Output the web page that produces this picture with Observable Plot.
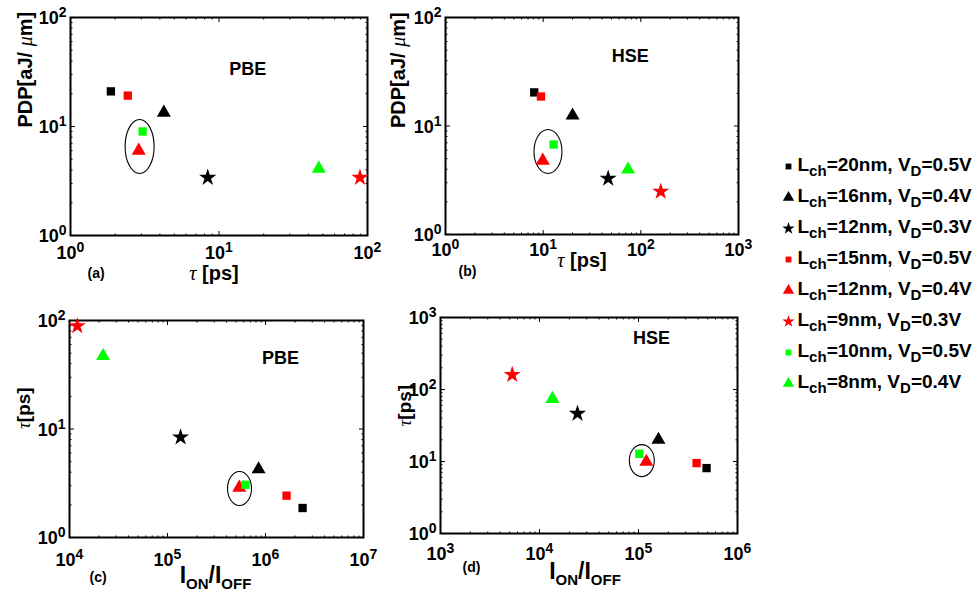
<!DOCTYPE html>
<html><head><meta charset="utf-8">
<script src="https://cdn.jsdelivr.net/npm/d3@7"></script>
<script src="https://cdn.jsdelivr.net/npm/@observablehq/plot@0.6"></script>
<style>
html,body{margin:0;padding:0;background:#fff;}
#wrap{position:relative;width:977px;height:592px;overflow:hidden;background:#fff;}
#wrap svg{position:absolute;overflow:visible;background:transparent;}
</style></head><body><div id="wrap"></div>
<script>
// ---- data ----
const lch = [20, 16, 12, 15, 12, 9, 10, 8];
const vd = [0.5, 0.4, 0.3, 0.5, 0.4, 0.3, 0.5, 0.4];
const tauPBE = [1.87, 4.25, 8.4, 2.43, 2.88, 89, 3.06, 47];
const pdpPBE = [21, 13.4, 3.4, 19.2, 6.0, 3.4, 9.0, 4.1];
const onoffPBE = [2.39e6, 8.5e5, 1.36e5, 1.64e6, 5.4e5, 1.2e4, 6.25e5, 2.2e4];
const tauHSE = [8.1, 20, 46.3, 9.5, 9.9, 160, 12.8, 74];
const pdpHSE = [20.4, 12.5, 3.28, 18.7, 4.8, 2.49, 6.75, 3.97];
const onoffHSE = [4.87e5, 1.59e5, 2.42e4, 3.86e5, 1.2e5, 5.3e3, 1.02e5, 1.35e4];
// circled pairs (centre of the highlight ellipse, data units)
const ellipseX = [2.92, 11.2, 5.43e5, 1.08e5];
const ellipseY = [6.56, 5.82, 2.83, 10.3];
// tick values
const ticksAx = [1, 10, 100], ticksAy = [1, 10, 100];
const ticksBx = [1, 10, 100, 1000], ticksBy = [1, 10, 100];
const ticksCx = [1e4, 1e5, 1e6, 1e7], ticksCy = [1, 10, 100];
const ticksDx = [1e3, 1e4, 1e5, 1e6], ticksDy = [1, 10, 100, 1000];
// annotation texts
const noteText = ["PBE", "HSE", "PBE", "HSE"];
const noteX = [15.6, 78, 1.42e6, 1.35e5];
const noteY = [29.4, 38.5, 40, 435];
const tags = ["(a)", "(b)", "(c)", "(d)"];
const labelTau = "*{τ} [ps]";
const labelPDP = "PDP[aJ/ *{μ}m]";
const labelTauY = "*{τ}[ps]";
const labelOnOff = "I_{ON}/I_{OFF}";

const seriesLabels = lch.map((l, i) => `L_{ch}=${l}nm, V_{D}=${vd[i]}V`);

// ---- styles ----
const colors = ["#000000", "#000000", "#000000", "#ff0000", "#ff0000", "#ff0000", "#00ff00", "#00ff00"];
const shapes = ["square", "triangle", "star", "square", "triangle", "star", "square", "triangle"];
const R = {square: 4.7, triangle: 5.2, star: 5.4};
const Rleg = {square: 3.3, triangle: 4.2, star: 3.9};
const FONT = "'Liberation Sans', Arial, Helvetica, sans-serif";

const seg = (dx, dy) => ({draw(c) { c.moveTo(0, 0); c.lineTo(dx, dy); }});
const ellipseSym = (rx, ry) => ({draw(c) {
  const k = 0.5523;
  c.moveTo(rx, 0);
  c.bezierCurveTo(rx, k * ry, k * rx, ry, 0, ry);
  c.bezierCurveTo(-k * rx, ry, -rx, k * ry, -rx, 0);
  c.bezierCurveTo(-rx, -k * ry, -k * rx, -ry, 0, -ry);
  c.bezierCurveTo(k * rx, -ry, rx, -k * ry, rx, 0);
  c.closePath();
}});
const minor = (t) => { const o = []; for (let i = 0; i < t.length - 1; i++) for (let k = 2; k <= 9; k++) o.push(t[i] * k); return o; };
const pow = (d) => `10^{${Math.round(Math.log10(d))}}`;

function tickMarks(xT, yT, len, sw) {
  const o = {stroke: "black", fill: "none", strokeWidth: sw};
  return [
    Plot.dot(xT, {x: d => d, frameAnchor: "bottom", symbol: seg(0, -len), ...o}),
    Plot.dot(xT, {x: d => d, frameAnchor: "top", symbol: seg(0, len), ...o}),
    Plot.dot(yT, {y: d => d, frameAnchor: "left", symbol: seg(len, 0), ...o}),
    Plot.dot(yT, {y: d => d, frameAnchor: "right", symbol: seg(-len, 0), ...o})
  ];
}

function richify(svg, subPx, subShift) {
  svg.querySelectorAll("text").forEach(t => {
    const s = t.textContent;
    if (!/[_^*]\{/.test(s)) return;
    while (t.firstChild) t.removeChild(t.firstChild);
    let cur = 0;
    const re = /([_^*])\{([^}]*)\}|([^_^*]+)/g;
    let m;
    while ((m = re.exec(s))) {
      const ts = document.createElementNS("http://www.w3.org/2000/svg", "tspan");
      let shift = 0;
      if (m[1] === "^") { ts.setAttribute("font-size", 14); shift = -7; ts.textContent = m[2]; }
      else if (m[1] === "_") { ts.setAttribute("font-size", subPx); shift = subShift; ts.textContent = m[2]; }
      else if (m[1] === "*") {
        ts.setAttribute("font-style", "italic"); ts.setAttribute("font-weight", "normal");
        ts.setAttribute("font-family", "'Liberation Serif', 'DejaVu Serif', serif");
        ts.textContent = m[2];
      } else ts.textContent = m[3];
      if (shift !== cur) ts.setAttribute("dy", shift - cur);
      cur = shift;
      t.appendChild(ts);
    }
  });
}

const wrap = document.getElementById("wrap");

function panel(c) {
  const rows = seriesLabels.map((label, i) => ({label, shape: shapes[i], x: c.xv[i], y: c.yv[i]}));
  const svg = Plot.plot({
    width: c.w, height: c.h,
    marginLeft: c.m[0], marginTop: c.m[1], marginRight: c.m[2], marginBottom: c.m[3],
    x: {type: "log", domain: [c.xT[0], c.xT[c.xT.length - 1]], axis: null},
    y: {type: "log", domain: [c.yT[0], c.yT[c.yT.length - 1]], axis: null},
    color: {domain: seriesLabels, range: colors},
    symbol: {domain: seriesLabels, range: shapes},
    style: {fontFamily: FONT, background: "transparent", overflow: "visible"},
    marks: [
      ...tickMarks(minor(c.xT), minor(c.yT), 2, 1),
      ...tickMarks(c.xT, c.yT, 4.5, 1),
      Plot.frame({stroke: "black", strokeWidth: 2}),
      Plot.dot([c.k], {x: k => ellipseX[k], y: k => ellipseY[k], symbol: ellipseSym(c.ell[0], c.ell[1]), stroke: "black", fill: "none", strokeWidth: 1.1}),
      ...seriesLabels.map(label => Plot.dot(rows.filter(d => d.label === label), {
        x: "x", y: "y", symbol: "label", fill: "label", r: R[rows.find(d => d.label === label).shape]
      })),
      Plot.text(c.xT, {x: d => d, frameAnchor: "bottom", dy: c.xtdy, lineAnchor: "bottom", text: pow, fontSize: 18, fontWeight: "bold", fill: "black"}),
      Plot.text(c.yT, {y: d => d, frameAnchor: "left", dx: -4, dy: 1, textAnchor: "end", lineAnchor: "middle", text: pow, fontSize: 18, fontWeight: "bold", fill: "black"}),
      Plot.text([c.k], {x: k => noteX[k], y: k => noteY[k], text: k => noteText[k], lineAnchor: "bottom", fontSize: 18, fontWeight: "bold", fill: "black"}),
      Plot.text([tags[c.k]], {frameAnchor: "bottom-left", dx: c.tag[0], dy: c.tag[1], lineAnchor: "bottom", text: d => d, fontSize: 14, fontWeight: "bold", fill: "black"}),
      Plot.text([c.xl], {frameAnchor: "bottom", dx: c.xlp[0], dy: c.xlp[1], lineAnchor: "bottom", text: d => d, fontSize: c.xlfs, fontWeight: "bold", fill: "black"}),
      Plot.text([c.yl], {frameAnchor: "left", dx: c.ylp[0], dy: c.ylp[1], rotate: -90, lineAnchor: "bottom", text: d => d, fontSize: c.ylfs, fontWeight: "bold", fill: "black"})
    ]
  });
  svg.style.left = c.pos[0] + "px";
  svg.style.top = c.pos[1] + "px";
  wrap.appendChild(svg);
  richify(svg, 15, 6);
}

panel({k: 0, xv: tauPBE, yv: pdpPBE, xT: ticksAx, yT: ticksAy, w: 380, h: 290, pos: [0, 0], m: [70, 17, 13, 55],
  ell: [14.5, 27], xtdy: 23, tag: [17, 42], xl: labelTau, xlp: [-5, 44], xlfs: 20, yl: labelPDP, ylp: [-39, 1], ylfs: 20});
panel({k: 1, xv: tauHSE, yv: pdpHSE, xT: ticksBx, yT: ticksBy, w: 380, h: 290, pos: [380, 0], m: [65, 17, 22, 56],
  ell: [14, 22], xtdy: 21, tag: [13, 41], xl: labelTau, xlp: [-10, 32], xlfs: 20, yl: labelPDP, ylp: [-41, 2], ylfs: 20});
panel({k: 2, xv: onoffPBE, yv: tauPBE, xT: ticksCx, yT: ticksCy, w: 380, h: 302, pos: [0, 290], m: [69, 30, 17, 55],
  ell: [12, 17], xtdy: 28, tag: [20, 44], xl: labelOnOff, xlp: [-1, 45], xlfs: 23, yl: labelTauY, ylp: [-40, 0], ylfs: 19});
panel({k: 3, xv: onoffHSE, yv: tauHSE, xT: ticksDx, yT: ticksDy, w: 380, h: 302, pos: [380, 290], m: [60, 27, 23, 59],
  ell: [12.5, 16], xtdy: 26, tag: [22, 38], xl: labelOnOff, xlp: [-4, 45], xlfs: 23, yl: labelTauY, ylp: [-30, 1], ylfs: 19});

// ---- legend ----
const legRows = seriesLabels.map((label, i) => ({label, shape: shapes[i]}));
const leg = Plot.plot({
  width: 227, height: 270, margin: 0,
  y: {type: "point", domain: seriesLabels, range: [26, 243], padding: 0, axis: null},
  color: {domain: seriesLabels, range: colors},
  symbol: {domain: seriesLabels, range: shapes},
  style: {fontFamily: FONT, background: "transparent", overflow: "visible"},
  marks: [
    ...legRows.map(d => Plot.dot([d], {y: "label", frameAnchor: "left", dx: 38, symbol: "label", fill: "label", r: Rleg[d.shape]})),
    Plot.text(legRows, {y: "label", frameAnchor: "left", dx: 47, dy: 4, textAnchor: "start", lineAnchor: "bottom", text: "label", fontSize: 19, fontWeight: "bold", fill: "black"})
  ]
});
leg.style.left = "750px";
leg.style.top = "140px";
wrap.appendChild(leg);
richify(leg, 15, 5);
</script></body></html>
